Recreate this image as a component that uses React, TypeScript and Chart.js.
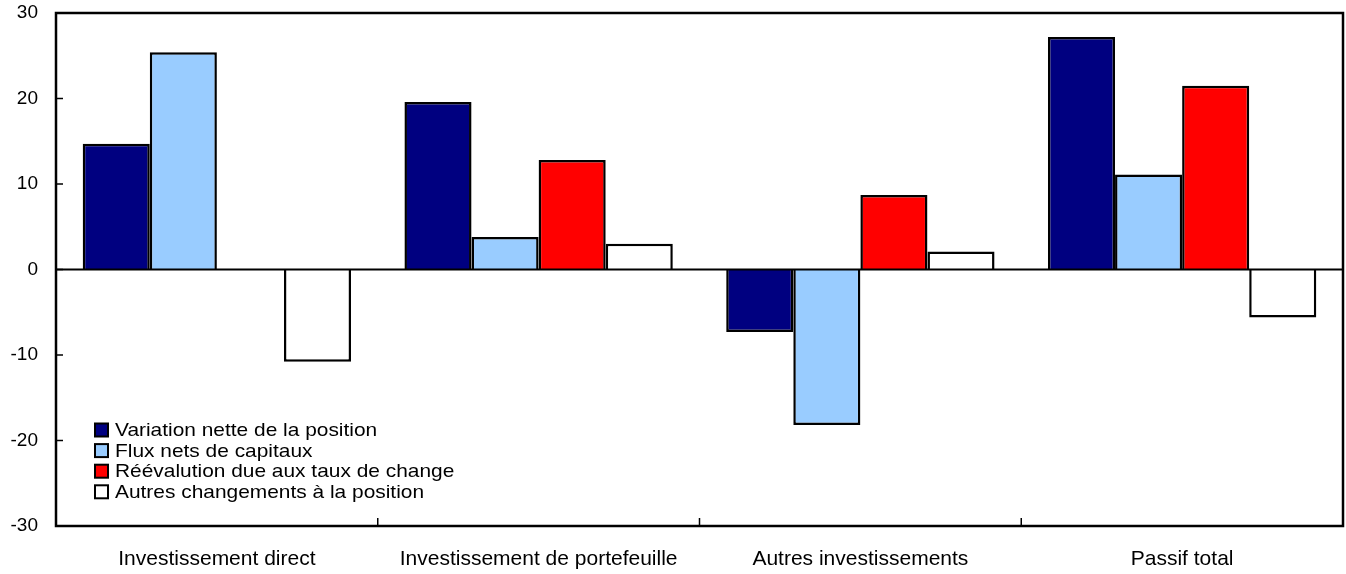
import React, { useEffect, useRef } from "react";
import { Chart, registerables } from "chart.js";

Chart.register(...registerables);

const categories = [
  "Investissement direct",
  "Investissement de portefeuille",
  "Autres investissements",
  "Passif total",
];
const seriesLabels = [
  "Variation nette de la position",
  "Flux nets de capitaux",
  "Réévalution due aux taux de change",
  "Autres changements à la position",
];
const variationNette = [14.7, 19.6, -7.3, 27.2];
const fluxNets = [25.4, 3.8, -18.2, 11.1];
const reevaluation = [null, 12.8, 8.7, 21.5];
const autresChangements = [-10.8, 3.0, 2.1, -5.6];
const seriesColors = ["#000080", "#99CCFF", "#FF0000", "#FFFFFF"];
const yMin = -30;
const yMax = 30;
const yStep = 10;

const FONT = "'Liberation Sans', Arial, Helvetica, sans-serif";

const framePlugin = {
  id: "frame",
  beforeDatasetsDraw(chart: any) {
    const { ctx, chartArea: a, scales } = chart;
    const y = scales.y;
    const x = scales.x;
    ctx.save();
    ctx.strokeStyle = "#000";
    ctx.lineWidth = 1.5;
    y.ticks.forEach((t: any) => {
      const py = y.getPixelForValue(t.value);
      ctx.beginPath();
      ctx.moveTo(a.left, py);
      ctx.lineTo(a.left + 7, py);
      ctx.stroke();
    });
    for (let i = 1; i < categories.length; i++) {
      const px = (x.getPixelForValue(i - 1) + x.getPixelForValue(i)) / 2;
      ctx.beginPath();
      ctx.moveTo(px, a.bottom);
      ctx.lineTo(px, a.bottom - 8);
      ctx.stroke();
    }
    ctx.restore();
  },
  afterDatasetsDraw(chart: any) {
    const { ctx, chartArea: a, scales } = chart;
    const y0 = scales.y.getPixelForValue(0);
    ctx.save();
    ctx.strokeStyle = "#000";
    ctx.lineWidth = 2;
    ctx.beginPath();
    ctx.moveTo(a.left, y0);
    ctx.lineTo(a.right, y0);
    ctx.stroke();
    ctx.restore();
  },
  afterDraw(chart: any) {
    const { ctx, chartArea: a } = chart;
    ctx.save();
    ctx.strokeStyle = "#000";
    ctx.lineWidth = 2.5;
    ctx.strokeRect(a.left, a.top, a.right - a.left, a.bottom - a.top);

    const boxX = a.left + 39;
    const startY = 430;
    const pitch = 20.6;
    ctx.font = `19px ${FONT}`;
    ctx.textBaseline = "middle";
    ctx.textAlign = "left";
    chart.data.datasets.forEach((ds: any, i: number) => {
      const cy = startY + i * pitch;
      ctx.fillStyle = ds.backgroundColor;
      ctx.fillRect(boxX, cy - 6.5, 13, 13);
      ctx.lineWidth = 2;
      ctx.strokeRect(boxX, cy - 6.5, 13, 13);
      ctx.save();
      ctx.translate(boxX + 20, cy + 1);
      ctx.scale(1.1, 1);
      ctx.fillStyle = "#000";
      ctx.fillText(ds.label, 0, 0);
      ctx.restore();
    });
    ctx.restore();
  },
};

export default function App() {
  const ref = useRef<HTMLCanvasElement | null>(null);

  useEffect(() => {
    if (!ref.current) return;
    const allSeries = [variationNette, fluxNets, reevaluation, autresChangements];
    const chart = new Chart(ref.current, {
      type: "bar",
      data: {
        labels: categories,
        datasets: allSeries.map((d, i) => ({
          label: seriesLabels[i],
          data: d as any,
          backgroundColor: seriesColors[i],
          borderColor: "#000",
          borderWidth: 2.5,
          borderSkipped: "start" as const,
          barPercentage: 1,
          categoryPercentage: 0.834,
        })),
      },
      options: {
        responsive: false,
        animation: false,
        layout: { padding: { top: 13, right: 3, left: 0, bottom: 0 } },
        plugins: {
          legend: { display: false },
          tooltip: { enabled: false },
          title: { display: false },
        },
        scales: {
          x: {
            grid: { display: false, drawTicks: false },
            border: { display: false },
            ticks: {
              color: "#000",
              font: { family: FONT, size: 21 },
              padding: 21,
              maxRotation: 0,
              autoSkip: false,
            },
            afterFit: (s: any) => {
              s.height = 48;
              s.paddingLeft = 0;
              s.paddingRight = 0;
              s.paddingTop = 0;
              s.paddingBottom = 0;
            },
          },
          y: {
            min: yMin,
            max: yMax,
            grid: { display: false, drawTicks: false },
            border: { display: false },
            ticks: {
              stepSize: yStep,
              color: "#000",
              font: { family: FONT, size: 19 },
              padding: 18,
            },
            afterFit: (s: any) => {
              s.width = 56;
              s.paddingTop = 0;
              s.paddingBottom = 0;
            },
          },
        },
      },
      plugins: [framePlugin],
    });
    return () => chart.destroy();
  }, []);

  return (
    <div style={{ position: "absolute", left: 0, top: 0, width: 1346, height: 574, background: "#fff" }}>
      <canvas ref={ref} width={1346} height={574} />
    </div>
  );
}
